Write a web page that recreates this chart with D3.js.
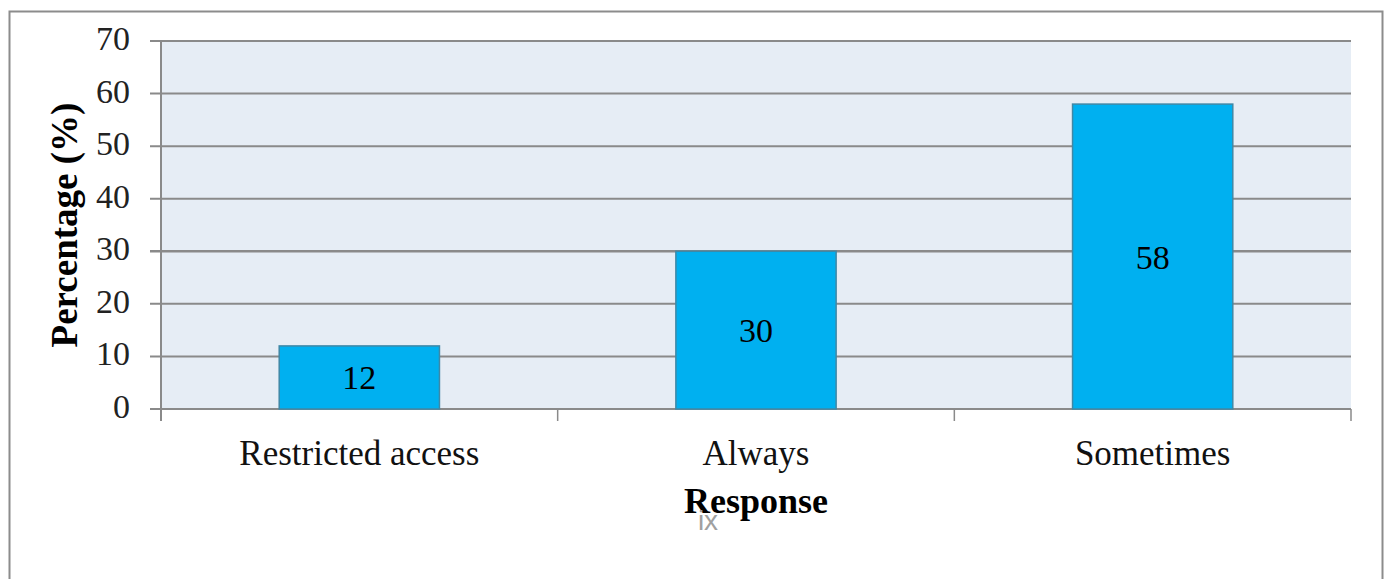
<!DOCTYPE html>
<html>
<head>
<meta charset="utf-8">
<script src="https://cdn.jsdelivr.net/npm/d3@7"></script>
<style>
  body { margin: 0; background: #fff; }
  text { font-family: "Liberation Serif", "Times New Roman", serif; }
</style>
</head>
<body>
<div id="chart"></div>
<script>
const categories = ["Restricted access", "Always", "Sometimes"]
const values = [12, 30, 58]
const yTicks = [0, 10, 20, 30, 40, 50, 60, 70]

function drawBarChart() {
  // Define Dimensions
    let dimensions = {
        width: 1387,
        height: 579,
        margin: { top: 41, right: 36, bottom: 170, left: 161 },
    }
    dimensions.boundedWidth = dimensions.width - dimensions.margin.left - dimensions.margin.right
    dimensions.boundedHeight = dimensions.height - dimensions.margin.top - dimensions.margin.bottom

  // Draw Canvas
    const svg = d3.select("#chart")
        .append("svg")
            .attr("width", dimensions.width)
            .attr("height", dimensions.height)

    // outer frame
    svg.append("rect")
        .attr("x", 9.5)
        .attr("y", 11.5)
        .attr("width", 1373)
        .attr("height", 600)
        .attr("fill", "none")
        .attr("stroke", "#8c8c8c")
        .attr("stroke-width", 2)

    const bounds = svg.append("g")
        .attr("transform", `translate(${dimensions.margin.left}, ${dimensions.margin.top})`)

  // Create scales
    const xScale = d3.scaleBand()
        .domain(categories)
        .range([0, dimensions.boundedWidth])
        .paddingInner(0.596)
        .paddingOuter(0.298)

    const yScale = d3.scaleLinear()
        .domain([0, 70])
        .range([dimensions.boundedHeight, 0])

    bounds.append("rect")
        .attr("width", dimensions.boundedWidth)
        .attr("height", dimensions.boundedHeight)
        .attr("fill", "#e6edf5")

  // Gridlines
    bounds.append("g")
        .selectAll("line")
        .data(yTicks)
        .join("line")
            .attr("x1", -11)
            .attr("x2", dimensions.boundedWidth)
            .attr("y1", d => yScale(d))
            .attr("y2", d => yScale(d))
            .attr("stroke", "#8a8a8a")
            .attr("stroke-width", d => d === 30 ? 2.5 : 2)

  // Bars
    const xBoundaries = d3.range(categories.length + 1)
        .map(i => i * xScale.step())

    bounds.append("g")
        .selectAll("rect")
        .data(values)
        .join("rect")
            .attr("x", (d, i) => xScale(categories[i]))
            .attr("y", d => yScale(d))
            .attr("width", xScale.bandwidth())
            .attr("height", d => dimensions.boundedHeight - yScale(d))
            .attr("fill", "#00b0f0")
            .attr("stroke", "#3f88a6")
            .attr("stroke-width", 1.5)

    bounds.append("g")
        .selectAll("text")
        .data(values)
        .join("text")
            .attr("x", (d, i) => xScale(categories[i]) + xScale.bandwidth() / 2)
            .attr("y", d => (yScale(d) + dimensions.boundedHeight) / 2 + 12)
            .attr("text-anchor", "middle")
            .style("font-size", "34px")
            .attr("fill", "#000")
            .text(d => d)

  // Axes
    const yAxis = bounds.append("g")
    yAxis.append("line")
        .attr("x1", 0).attr("x2", 0)
        .attr("y1", 0).attr("y2", dimensions.boundedHeight + 12)
        .attr("stroke", "#8a8a8a")
        .attr("stroke-width", 2)
    yAxis.selectAll("text")
        .data(yTicks)
        .join("text")
            .attr("x", -31)
            .attr("y", d => yScale(d) + 9)
            .attr("text-anchor", "end")
            .style("font-size", "34px")
            .attr("fill", "#222")
            .text(d => d)

    const xAxis = bounds.append("g")
    xAxis.selectAll("line")
        .data(xBoundaries.slice(1))
        .join("line")
            .attr("x1", d => d).attr("x2", d => d)
            .attr("y1", dimensions.boundedHeight)
            .attr("y2", dimensions.boundedHeight + 12)
            .attr("stroke", "#8a8a8a")
            .attr("stroke-width", 1.5)
    xAxis.selectAll("text")
        .data(categories)
        .join("text")
            .attr("x", d => xScale(d) + xScale.bandwidth() / 2)
            .attr("y", dimensions.boundedHeight + 56)
            .attr("text-anchor", "middle")
            .style("font-size", "35px")
            .attr("fill", "#111")
            .text(d => d)

  // Axis titles
    bounds.append("text")
        .attr("x", dimensions.boundedWidth / 2)
        .attr("y", dimensions.boundedHeight + 104)
        .attr("text-anchor", "middle")
        .style("font-size", "36px")
        .attr("font-weight", "bold")
        .attr("fill", "#000")
        .text("Response")

    svg.append("text")
        .attr("transform", `translate(77, 225) rotate(-90)`)
        .attr("text-anchor", "middle")
        .style("font-size", "37px")
        .attr("font-weight", "bold")
        .attr("fill", "#000")
        .text("Percentage (%)")

    svg.append("text")
        .attr("x", 708)
        .attr("y", 530)
        .attr("text-anchor", "middle")
        .style("font-family", "Liberation Sans, Arial, sans-serif")
        .style("font-size", "28px")
        .attr("fill", "#a0a0a0")
        .text("ix")
}

drawBarChart()
</script>
</body>
</html>
